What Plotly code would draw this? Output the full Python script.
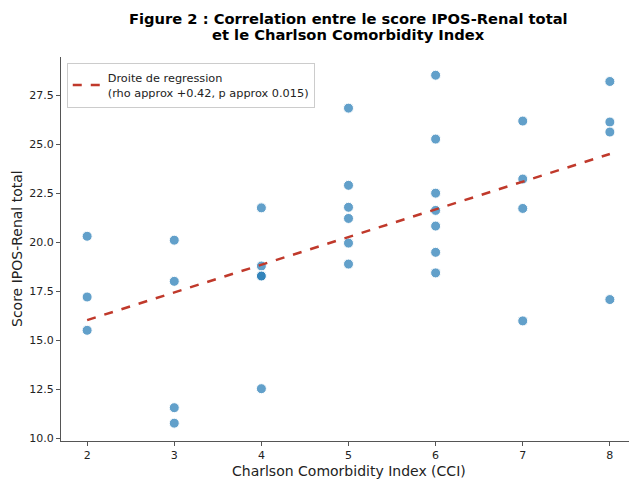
import plotly.graph_objects as go

# Data
cci = [2, 2, 2,
       3, 3, 3, 3,
       4, 4, 4, 4, 4,
       5, 5, 5, 5, 5, 5,
       6, 6, 6, 6, 6, 6, 6,
       7, 7, 7, 7,
       8, 8, 8, 8]
ipos = [20.3, 17.2, 15.5,
        20.1, 18.0, 11.55, 10.76,
        21.75, 18.78, 18.27, 18.27, 12.52,
        26.84, 22.9, 21.78, 21.21, 19.95, 18.88,
        28.52, 25.26, 22.5, 21.62, 20.82, 19.48, 18.43,
        26.18, 23.22, 21.72, 15.98,
        28.2, 26.13, 25.62, 17.07]

reg_x = [2, 8]
reg_y = [16.02, 24.5]

x_ticks = [2, 3, 4, 5, 6, 7, 8]
y_ticks = [10.0, 12.5, 15.0, 17.5, 20.0, 22.5, 25.0, 27.5]

title_line1 = "<b>Figure 2 : Correlation entre le score IPOS-Renal total</b>"
title_line2 = "<b>et le Charlson Comorbidity Index</b>"
x_title = "Charlson Comorbidity Index (CCI)"
y_title = "Score IPOS-Renal total"

FONT = "DejaVu Sans"

fig = go.Figure()
fig.add_trace(go.Scatter(
    x=cci, y=ipos, mode="markers", showlegend=False,
    marker=dict(size=10, color="rgba(31,119,180,0.7)",
                line=dict(color="white", width=1)),
))
fig.add_trace(go.Scatter(
    x=reg_x, y=reg_y, mode="lines",
    name="Droite de regression<br>(rho approx +0.42, p approx 0.015)",
    line=dict(color="#c0392b", width=2.5, dash="dash"),
))

fig.update_layout(
    width=629, height=471,
    margin=dict(l=53, r=1, t=49, b=38, autoexpand=False),
    paper_bgcolor="white", plot_bgcolor="white",
    font=dict(family=FONT, size=11, color="#222"),
    legend=dict(
        x=0.01, y=0.985, xanchor="left", yanchor="top", itemwidth=30,
        bgcolor="rgba(255,255,255,0.8)", bordercolor="#cccccc", borderwidth=1,
        font=dict(family=FONT, size=11.3, color="#222"),
    ),
    xaxis=dict(
        range=[1.7, 8.3], tickvals=x_ticks, showgrid=False, zeroline=False,
        showline=True, linecolor="#555", linewidth=1.2, automargin=False,
        ticks="outside", ticklen=4, tickcolor="#555",
    ),
    yaxis=dict(
        range=[9.85, 29.45], tickvals=y_ticks, tickformat=".1f", showgrid=False, zeroline=False,
        showline=True, linecolor="#555", linewidth=1.2, automargin=False,
        ticks="outside", ticklen=4, tickcolor="#555",
    ),
    annotations=[
        dict(text=title_line1, xref="paper", yref="paper", x=0.5, y=1,
             xanchor="center", yanchor="middle", yshift=39, showarrow=False,
             font=dict(family=FONT, size=14.7, color="black")),
        dict(text=title_line2, xref="paper", yref="paper", x=0.5, y=1,
             xanchor="center", yanchor="middle", yshift=23, showarrow=False,
             font=dict(family=FONT, size=14.7, color="black")),
        dict(text=x_title, xref="paper", yref="paper", x=0.5, y=0,
             xanchor="center", yanchor="top", yshift=-20, showarrow=False,
             font=dict(family=FONT, size=14, color="#222")),
        dict(text=y_title, xref="paper", yref="paper", x=0, y=0.5,
             xanchor="center", yanchor="middle", xshift=-44, textangle=-90, showarrow=False,
             font=dict(family=FONT, size=14, color="#222")),
    ],
)

fig.write_html("out.html")
